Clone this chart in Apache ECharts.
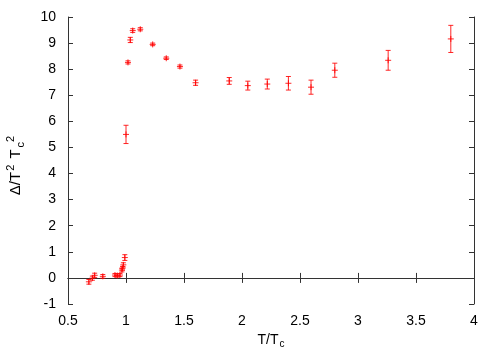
<!DOCTYPE html>
<html><head><meta charset="utf-8">
<script src="https://cdn.jsdelivr.net/npm/echarts@6/dist/echarts.min.js"></script>
<style>html,body{margin:0;padding:0;background:#fff}#c{width:500px;height:350px}</style>
</head><body><div id="c"></div>
<script>
const xs = [0.68,0.71,0.73,0.80,0.905,0.925,0.948,0.965,0.97,0.977,0.99,1.0,1.017,1.037,1.058,1.123,1.23,1.347,1.465,1.60,1.89,2.05,2.218,2.40,2.595,2.80,3.26,3.80];
const ys = [-0.15,-0.01,0.10,0.06,0.11,0.09,0.11,0.30,0.37,0.50,0.78,5.5,8.26,9.12,9.48,9.53,8.95,8.42,8.1,7.48,7.55,7.37,7.43,7.46,7.31,7.96,8.34,9.16];
const errs = [0.09,0.08,0.08,0.07,0.06,0.06,0.06,0.07,0.07,0.08,0.11,0.35,0.06,0.1,0.07,0.06,0.05,0.05,0.06,0.1,0.13,0.17,0.19,0.26,0.27,0.27,0.38,0.52];
const xTicks = [0.5,1,1.5,2,2.5,3,3.5,4];
const yTicks = [-1,0,1,2,3,4,5,6,7,8,9,10];

const data = xs.map((x,i)=>[x, ys[i], errs[i]]);
const font = 'Liberation Sans, Arial, sans-serif';
const chart = echarts.init(document.getElementById('c'));
const axisLine = {show:true, lineStyle:{color:'#333', width:1}};
const tick = {show:true, inside:true, length:5, lineStyle:{color:'#333'}};
const fmt = v => String(v);
chart.setOption({
  animation:false,
  grid:{left:68, right:26, top:17, bottom:46, show:false, containLabel:false, outerBoundsMode:'none'},
  xAxis:[{
    type:'value', min:xTicks[0], max:xTicks[xTicks.length-1], interval:0.5, position:'bottom',
    axisLine, axisTick:tick, splitLine:{show:false},
    axisLabel:{color:'#000', fontSize:14, fontFamily:font, margin:10, formatter:fmt},
    name:'{a|T/T}{s|c}', nameLocation:'middle', nameGap:24,
    nameTextStyle:{rich:{a:{fontSize:14, fontFamily:font, color:'#000'}, s:{fontSize:10, fontFamily:font, color:'#000', padding:[9,0,0,1]}}}
  },{
    type:'value', min:xTicks[0], max:xTicks[xTicks.length-1], interval:0.5, position:'top',
    axisLine, axisTick:tick, axisLabel:{show:false}, splitLine:{show:false}
  }],
  yAxis:[{
    type:'value', min:yTicks[0], max:yTicks[yTicks.length-1], interval:1, position:'left',
    axisLine, axisTick:tick, splitLine:{show:false},
    axisLabel:{color:'#000', fontSize:14, fontFamily:font, margin:12, formatter:fmt},
    name:'{a|Δ/T}{p|2}{a| T}{s|c}{q|2}', nameLocation:'middle', nameGap:42, nameRotate:90,
    nameTextStyle:{rich:{
      a:{fontSize:15, fontFamily:font, color:'#000'},
      p:{fontSize:11, fontFamily:font, color:'#000', padding:[0,2,10,1]},
      s:{fontSize:11, fontFamily:font, color:'#000', padding:[10,0,0,2]},
      q:{fontSize:11, fontFamily:font, color:'#000', padding:[0,10,10,0]}
    }}
  },{
    type:'value', min:yTicks[0], max:yTicks[yTicks.length-1], interval:1, position:'right',
    axisLine, axisTick:tick, axisLabel:{show:false}, splitLine:{show:false}
  }],
  series:[{
    type:'custom', xAxisIndex:0, yAxisIndex:0, data,
    renderItem:(params, api)=>{
      const x = api.value(0), y = api.value(1), e = api.value(2);
      const c = api.coord([x,y]), t = api.coord([x,y+e]), b = api.coord([x,y-e]);
      const st = {stroke:'rgba(255,0,0,0.85)', lineWidth:1, fill:null};
      const hw = 2.5;
      return {type:'group', children:[
        {type:'line', shape:{x1:c[0],y1:t[1],x2:c[0],y2:b[1]}, style:st},
        {type:'line', shape:{x1:c[0]-hw,y1:t[1],x2:c[0]+hw,y2:t[1]}, style:st},
        {type:'line', shape:{x1:c[0]-hw,y1:b[1],x2:c[0]+hw,y2:b[1]}, style:st},
        {type:'line', shape:{x1:c[0]-3,y1:c[1],x2:c[0]+3,y2:c[1]}, style:st},
        {type:'line', shape:{x1:c[0],y1:c[1]-3,x2:c[0],y2:c[1]+3}, style:st}
      ]};
    }
  }]
});
</script></body></html>
